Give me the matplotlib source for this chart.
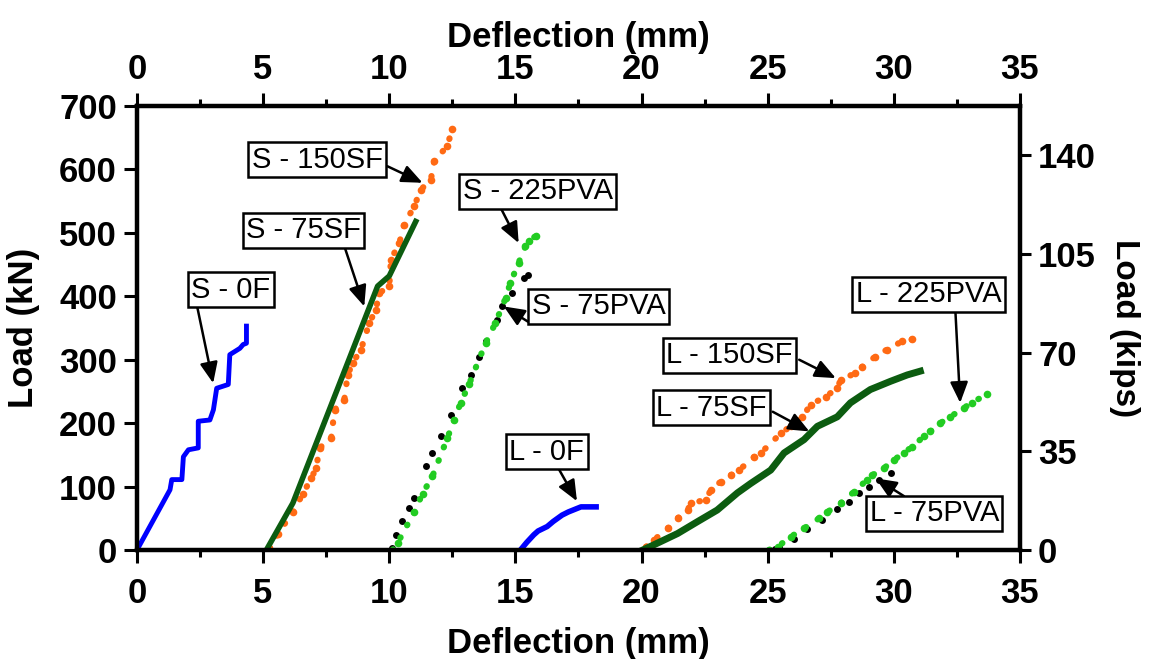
import matplotlib
matplotlib.use('Agg')
from matplotlib import pyplot as plt
from matplotlib.ticker import MultipleLocator

plt.rcParams['font.family'] = ['Liberation Sans', 'DejaVu Sans']

# deflection (mm) / load (kN)
s0f_x = [0.0, 1.31, 1.38, 1.78, 1.84, 2.04, 2.43, 2.43, 2.89, 3.03, 3.16, 3.62, 3.68, 4.08, 4.21, 4.34, 4.34]
s0f_y = [0, 95, 111, 111, 147, 158, 161, 203, 205, 221, 255, 261, 308, 318, 324, 326, 353]

s75sf_x = [5.13, 6.18, 9.54, 10.0, 11.05]
s75sf_y = [0, 74, 416, 432, 518]

s150sf_x = [5.25, 5.59, 6.18, 6.58, 6.91, 7.10, 7.24, 7.70, 7.83, 8.22, 8.35, 8.55, 8.88,
            9.21, 9.47, 9.60, 10.0, 10.07, 10.4, 10.59, 10.99, 11.25, 11.65, 11.78, 12.3, 12.5]
s150sf_y = [3, 26, 60, 89, 113, 129, 161, 176, 221, 237, 276, 295, 316,
            358, 379, 405, 416, 458, 484, 513, 542, 568, 584, 613, 637, 664]

s225pva_x = [10.13, 10.33, 10.99, 11.32, 11.71, 12.3, 12.57, 12.83, 13.16, 13.82, 14.21,
             14.61, 14.8, 15.13, 15.4, 15.55, 15.8]
s225pva_y = [0, 11, 60, 89, 116, 176, 205, 232, 261, 326, 358, 397, 421, 453, 479, 487, 495]

s75pva_x = [10.1, 10.26, 10.52, 10.79, 10.99, 11.45, 11.71, 12.04, 12.44, 12.89, 13.23,
            13.55, 13.82, 14.28, 14.47, 14.87, 15.33, 15.5]
s75pva_y = [3, 24, 45, 66, 82, 132, 153, 179, 213, 255, 276, 305, 329, 363, 384, 405, 429, 434]

l0f_x = [15.2, 15.45, 15.73, 15.9, 16.26, 16.5, 16.85, 17.1, 17.6, 18.2]
l0f_y = [0, 12, 24, 30, 37, 45, 55, 60, 68, 68]

l75sf_x = [20.05, 20.64, 21.43, 22.23, 23.0, 23.8, 24.33, 25.12, 25.65, 26.44, 26.97,
           27.76, 28.28, 29.07, 29.87, 30.53, 31.05]
l75sf_y = [0, 11, 26, 45, 63, 90, 105, 126, 153, 174, 195, 210, 232, 253, 266, 276, 282]

l150sf_x = [20.18, 20.5, 21.04, 21.43, 21.83, 21.96, 22.55, 22.75, 23.15, 23.54, 23.87,
            24.47, 24.73, 25.52, 25.91, 26.38, 26.7, 27.3, 27.76, 27.89, 28.48, 28.75,
            29.27, 29.73, 30.33, 30.73]
l150sf_y = [5, 16, 34, 50, 63, 74, 79, 95, 108, 118, 126, 147, 153, 184, 195, 210, 229,
            242, 255, 268, 279, 289, 305, 316, 329, 332]

l225pva_x = [25.06, 25.39, 25.92, 26.44, 27.04, 27.37, 27.9, 28.43, 28.95, 29.15, 29.61,
             30.0, 30.4, 30.73, 31.19, 31.45, 31.84, 32.24, 32.77, 33.1, 33.69]
l225pva_y = [0, 5, 21, 34, 50, 60, 74, 92, 111, 118, 129, 142, 153, 163, 179, 187, 200,
             210, 224, 232, 246]

l75pva_x = [25.3, 25.45, 26.05, 26.57, 27.17, 27.76, 28.22, 28.62, 29.0, 29.4, 29.87]
l75pva_y = [2, 5, 18, 33, 48, 64, 76, 90, 99, 111, 121]

# callouts: label, box centre, arrow start, arrow tip
labels = ['S - 150SF', 'S - 75SF', 'S - 0F', 'S - 225PVA', 'S - 75PVA',
          'L - 0F', 'L - 150SF', 'L - 75SF', 'L - 225PVA', 'L - 75PVA']
box_xy = [(7.14, 615), (6.6, 504), (3.72, 410), (15.88, 566), (18.29, 384),
          (16.24, 155), (23.49, 307), (22.78, 224), (31.38, 403), (31.6, 58)]
arr_from = [(9.93, 605), (8.22, 479), (2.37, 387), (14.41, 540), (15.5, 360),
            (16.73, 127), (26.25, 300), (25.2, 218), (32.44, 377), (30.4, 85)]
arr_to = [(11.32, 579), (9.01, 384), (3.02, 263), (15.13, 484), (14.54, 384),
          (17.44, 77), (27.7, 271), (26.65, 187), (32.63, 232), (29.28, 113)]

KN_PER_KIP = 4.448
kip_ticks = [0, 35, 70, 105, 140]

blue = '#0000ff'
dkgreen = '#0c5c10'
orange = '#ff6a14'
ltgreen = '#22cc22'

fig = plt.figure(figsize=(11.49, 6.59), dpi=100)
ax = fig.add_axes([0.1192, 0.1654, 0.7685, 0.6737])

dots = dict(ls=(0, (0.1, 2.2)), lw=4.5, dash_capstyle='round', marker='o', ms=5.5, mew=0)
ax.plot(s150sf_x, s150sf_y, color=orange, **dots)
ax.plot(l150sf_x, l150sf_y, color=orange, **dots)
ax.plot(s75pva_x, s75pva_y, color='black', ls='none', marker='o', ms=5, mew=0)
ax.plot(l75pva_x, l75pva_y, color='black', ls='none', marker='o', ms=5, mew=0)
ax.plot(s225pva_x, s225pva_y, color=ltgreen, **dots)
ax.plot(l225pva_x, l225pva_y, color=ltgreen, **dots)
ax.plot(s75sf_x, s75sf_y, color=dkgreen, lw=4)
ax.plot(l75sf_x, l75sf_y, color=dkgreen, lw=5)
ax.plot(s0f_x, s0f_y, color=blue, lw=3.5)
ax.plot(l0f_x, l0f_y, color=blue, lw=4)

for lab, c, a, b in zip(labels, box_xy, arr_from, arr_to):
    ax.annotate('', xy=b, xytext=a,
                arrowprops=dict(arrowstyle='-|>,head_length=0.7,head_width=0.3',
                                color='black', lw=1.8, mutation_scale=18,
                                shrinkA=0, shrinkB=0), zorder=5)
    ax.text(c[0], c[1], lab, fontsize=21, ha='center', va='center', zorder=6,
            bbox=dict(boxstyle='square,pad=0.12', fc='white', ec='black', lw=1.8))

ax.set_xlim(0, 35)
ax.set_ylim(0, 700)
ax.xaxis.set_major_locator(MultipleLocator(5))
ax.xaxis.set_minor_locator(MultipleLocator(2.5))
ax.yaxis.set_major_locator(MultipleLocator(100))

for s in ax.spines.values():
    s.set_linewidth(3)

ax.tick_params(which='major', direction='out', length=9.5, width=2.2, labelsize=25)
ax.tick_params(axis='x', which='major', pad=10)
ax.tick_params(axis='y', which='major', pad=5)
ax.tick_params(which='minor', direction='out', length=5, width=2.2)
for t in ax.get_xticklabels() + ax.get_yticklabels():
    t.set_fontweight('bold')
ax.set_xlabel('Deflection (mm)', fontsize=25, fontweight='bold', labelpad=12)
ax.set_ylabel('Load (kN)', fontsize=25, fontweight='bold', labelpad=14)

top = ax.twiny()
top.set_xlim(0, 35)
top.xaxis.set_major_locator(MultipleLocator(5))
top.xaxis.set_minor_locator(MultipleLocator(2.5))
top.tick_params(which='major', direction='out', length=9.5, width=2.2, labelsize=25, pad=5)
top.tick_params(which='minor', direction='out', length=5, width=2.2)
for t in top.get_xticklabels():
    t.set_fontweight('bold')
top.set_xlabel('Deflection (mm)', fontsize=25, fontweight='bold', labelpad=4)

right = ax.twinx()
right.set_ylim(0, 700 / KN_PER_KIP)
right.set_yticks(kip_ticks)
right.tick_params(direction='out', length=8, width=2.2, labelsize=25, pad=5)
for t in right.get_yticklabels():
    t.set_fontweight('bold')
for a in (top, right):
    for s in a.spines.values():
        s.set_linewidth(3)
right.set_ylabel('Load (kips)', fontsize=24, fontweight='bold', rotation=270, labelpad=32)

fig.savefig('out.png', dpi=100)
